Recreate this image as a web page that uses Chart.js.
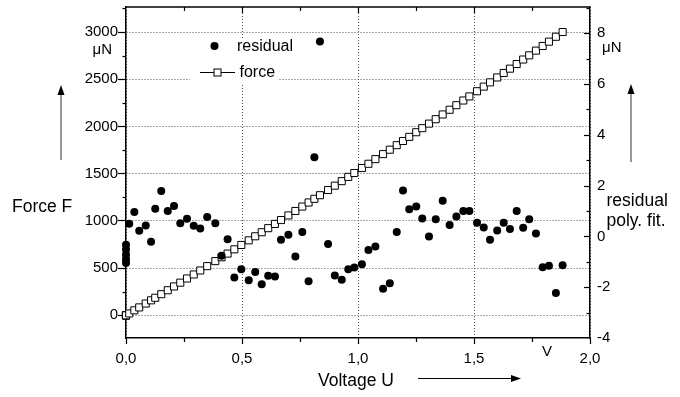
<!DOCTYPE html>
<html>
<head>
<meta charset="utf-8">
<script src="https://cdn.jsdelivr.net/npm/chart.js@4"></script>
<style>
  html, body { margin: 0; padding: 0; background: #fff; }
  canvas { display: block; }
</style>
</head>
<body>
<canvas id="forceChart" width="680" height="397"></canvas>
<script>
// measured points, voltage in V, force and residual in µN
const voltage = [0, 0, 0, 0, 0,
  0.014, 0.036, 0.057, 0.085, 0.108, 0.126, 0.152, 0.180, 0.207, 0.234,
  0.263, 0.292, 0.320, 0.350, 0.385, 0.412, 0.438, 0.467, 0.497, 0.529,
  0.557, 0.585, 0.613, 0.642, 0.668, 0.700, 0.730, 0.760, 0.787, 0.812,
  0.836, 0.871, 0.900, 0.930, 0.958, 0.984, 1.017, 1.045, 1.075, 1.108,
  1.137, 1.167, 1.194, 1.221, 1.251, 1.277, 1.306, 1.335, 1.365, 1.395,
  1.424, 1.454, 1.480, 1.513, 1.542, 1.569, 1.600, 1.628, 1.655, 1.684,
  1.712, 1.738, 1.767, 1.796, 1.823, 1.853, 1.882];

const force = [0, 0, 0, 0, 0,
  20, 53, 84, 125, 159, 186, 224, 266, 306, 346,
  390, 433, 475, 521, 574, 615, 654, 699, 745, 794,
  837, 880, 923, 968, 1009, 1058, 1105, 1152, 1195, 1234,
  1272, 1327, 1373, 1421, 1466, 1507, 1560, 1605, 1654, 1707,
  1754, 1802, 1846, 1890, 1939, 1982, 2030, 2077, 2127, 2177,
  2225, 2275, 2318, 2373, 2422, 2467, 2519, 2566, 2612, 2661,
  2709, 2753, 2803, 2852, 2898, 2950, 3000];

const residual = [-0.33, -0.52, -0.72, -0.90, -1.05,
  0.50, 0.96, 0.22, 0.43, -0.21, 1.09, 1.79, 1.00, 1.20, 0.52,
  0.69, 0.42, 0.31, 0.76, 0.52, -0.76, -0.11, -1.62, -1.29, -1.73,
  -1.40, -1.88, -1.55, -1.58, -0.13, 0.06, -0.79, 0.17, -1.77, 3.12,
  7.67, -0.30, -1.54, -1.71, -1.29, -1.22, -1.10, -0.54, -0.40, -2.06,
  -1.84, 0.17, 1.81, 1.07, 1.18, 0.70, 0.00, 0.67, 1.40, 0.45,
  0.78, 1.00, 1.00, 0.54, 0.35, -0.13, 0.23, 0.54, 0.29, 1.00,
  0.34, 0.67, 0.11, -1.21, -1.16, -2.23, -1.14];

const xTicks = [0, 0.5, 1, 1.5, 2];
const forceTicks = [0, 500, 1000, 1500, 2000, 2500, 3000];
const residualTicks = [-4, -2, 0, 2, 4, 6, 8];

const FONT = "'Liberation Sans', Arial, sans-serif";
Chart.defaults.font.family = FONT;
Chart.defaults.font.size = 15;
Chart.defaults.color = "#000";

function label(ctx, s, x, y, size, align) {
  ctx.font = size + "px " + FONT;
  ctx.fillStyle = "#000";
  ctx.textAlign = align || "left";
  ctx.textBaseline = "middle";
  ctx.fillText(s, x, y);
}

function arrow(ctx, x1, y1, x2, y2, color) {
  const ang = Math.atan2(y2 - y1, x2 - x1);
  ctx.strokeStyle = color;
  ctx.lineWidth = 1.2;
  ctx.beginPath();
  ctx.moveTo(x1, y1);
  ctx.lineTo(x2 - 8 * Math.cos(ang), y2 - 8 * Math.sin(ang));
  ctx.stroke();
  ctx.fillStyle = "#000";
  ctx.beginPath();
  ctx.moveTo(x2, y2);
  ctx.lineTo(x2 - 10 * Math.cos(ang) + 3.5 * Math.sin(ang), y2 - 10 * Math.sin(ang) - 3.5 * Math.cos(ang));
  ctx.lineTo(x2 - 10 * Math.cos(ang) - 3.5 * Math.sin(ang), y2 - 10 * Math.sin(ang) + 3.5 * Math.cos(ang));
  ctx.closePath();
  ctx.fill();
}

function seg(ctx, x1, y1, x2, y2) {
  ctx.beginPath();
  ctx.moveTo(x1, y1);
  ctx.lineTo(x2, y2);
  ctx.stroke();
}

// drop the label overhang padding so the plot box sits where the original does
function noOverhang(s) {
  s.paddingTop = 0;
  s.paddingBottom = 0;
  s.paddingLeft = 0;
  s.paddingRight = 0;
}

// box top, minor/inward ticks, legend and the axis captions
const extras = {
  id: "extras",
  afterDraw(chart) {
    const ctx = chart.ctx;
    const a = chart.chartArea;
    const xs = chart.scales.x, ys = chart.scales.y, ys2 = chart.scales.y2;
    ctx.save();
    ctx.strokeStyle = "#000";
    ctx.lineWidth = 1.5;
    seg(ctx, a.left, a.top, a.right, a.top);

    ctx.lineWidth = 1.2;
    for (let v = 0.25; v < 2; v += 0.25) {
      const px = Math.round(xs.getPixelForValue(v)) + 0.5;
      const major = Math.abs(v * 2 - Math.round(v * 2)) < 1e-6;
      seg(ctx, px, a.top, px, a.top + (major ? 6 : 4));
      if (!major) seg(ctx, px, a.bottom, px, a.bottom + 4);
    }
    for (let v = 250; v < ys.max; v += 500) {
      const py = Math.round(ys.getPixelForValue(v)) + 0.5;
      seg(ctx, a.left - 3.5, py, a.left, py);
    }
    for (let v = -3; v < ys2.max; v += 1) {
      const py = Math.round(ys2.getPixelForValue(v)) + 0.5;
      const major = v % 2 === 0;
      seg(ctx, a.right - (major ? 6 : 3.5), py, a.right, py);
    }

    // legend
    ctx.fillStyle = "#fff";
    ctx.fillRect(190, 38, 89, 46);
    ctx.fillStyle = "#000";
    ctx.beginPath();
    ctx.arc(214.5, 46, 4, 0, Math.PI * 2);
    ctx.fill();
    label(ctx, "residual", 237, 47, 16);
    ctx.lineWidth = 1;
    seg(ctx, 200, 72.5, 235, 72.5);
    ctx.fillStyle = "#fff";
    ctx.fillRect(214, 69, 7, 7);
    ctx.strokeRect(214, 69, 7, 7);
    label(ctx, "force", 239.5, 72.5, 16);

    // captions
    label(ctx, "\u03bcN", 112, 50, 15, "right");
    label(ctx, "\u03bcN", 602, 48, 15);
    label(ctx, "Force F", 12, 207, 17.5);
    label(ctx, "residual", 606.5, 201.5, 17.5);
    label(ctx, "poly. fit.", 606.5, 221.5, 17.5);
    label(ctx, "Voltage U", 318, 381.5, 17.5);
    label(ctx, "V", 547, 352, 15, "center");
    arrow(ctx, 61, 160, 61, 85, "#555");
    arrow(ctx, 631, 162, 631, 84, "#555");
    arrow(ctx, 418, 378.5, 521, 378.5, "#000");
    ctx.restore();
  }
};

new Chart(document.getElementById("forceChart"), {
  type: "scatter",
  data: {
    datasets: [
      {
        label: "residual",
        data: voltage.map((u, i) => ({ x: u, y: residual[i] })),
        yAxisID: "y2",
        showLine: false,
        pointStyle: "circle",
        pointRadius: 4,
        pointBackgroundColor: "#000",
        pointBorderColor: "#000",
        pointBorderWidth: 0,
        clip: false,
      },
      {
        label: "force",
        data: voltage.map((u, i) => ({ x: u, y: force[i] })),
        yAxisID: "y",
        showLine: true,
        borderColor: "#000",
        borderWidth: 1,
        pointStyle: "rect",
        pointRadius: 5,
        pointBackgroundColor: "#fff",
        pointBorderColor: "#000",
        pointBorderWidth: 1,
        clip: false,
      },
    ],
  },
  options: {
    responsive: false,
    animation: false,
    devicePixelRatio: 1,
    events: [],
    layout: { padding: { top: 7, left: 0, right: 0, bottom: 0 } },
    plugins: {
      legend: { display: false },
      tooltip: { enabled: false },
    },
    scales: {
      x: {
        type: "linear",
        position: "bottom",
        min: 0,
        max: 2,
        afterBuildTicks: (s) => { s.ticks = xTicks.map((v) => ({ value: v })); },
        afterFit: (s) => { s.height = 59; noOverhang(s); },
        ticks: {
          callback: (v) => Number(v).toFixed(1).replace(".", ","),
          padding: 6,
          maxRotation: 0,
          autoSkip: false,
        },
        grid: { color: "#555", lineWidth: 1, tickLength: 6, tickColor: "#000", tickWidth: 1.2 },
        border: { color: "#000", width: 1.5, dash: [1, 2] },
      },
      y: {
        type: "linear",
        position: "left",
        min: -240,
        max: 3265,
        afterBuildTicks: (s) => { s.ticks = forceTicks.map((v) => ({ value: v })); },
        afterFit: (s) => { s.width = 126; noOverhang(s); },
        ticks: { padding: 0, callback: (v) => String(v) },
        grid: { color: "#555", lineWidth: 1, tickLength: 8, tickColor: "#000", tickWidth: 1.2 },
        border: { color: "#000", width: 1.5, dash: [1, 2] },
      },
      y2: {
        type: "linear",
        position: "right",
        min: -4,
        max: 9.03,
        afterBuildTicks: (s) => { s.ticks = residualTicks.map((v) => ({ value: v })); },
        afterFit: (s) => { s.width = 90; noOverhang(s); },
        ticks: { padding: 7, callback: (v) => String(v) },
        grid: { display: false, drawTicks: false },
        border: { color: "#000", width: 1.5 },
      },
    },
  },
  plugins: [extras],
});
</script>
</body>
</html>
